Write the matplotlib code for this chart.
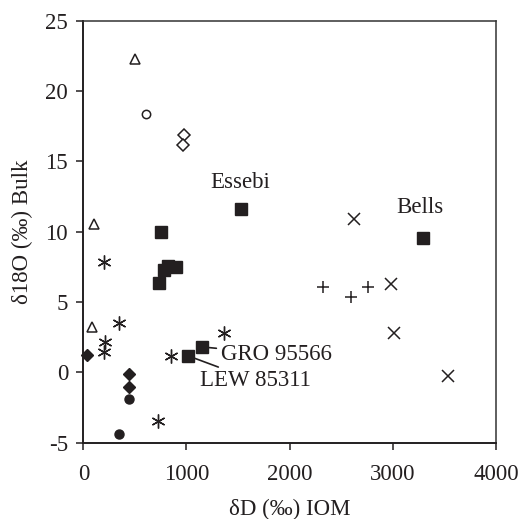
import matplotlib
matplotlib.use('Agg')
import matplotlib.pyplot as plt

plt.rcParams['font.family'] = ['Liberation Serif', 'DejaVu Serif']
plt.rcParams['axes.unicode_minus'] = False

INK = '#231f20'

# filled squares (named meteorites among them)
sq_x = [1528, 750, 818, 898, 785, 737, 1153, 1018, 3295]
sq_y = [11.6, 9.96, 7.56, 7.47, 7.28, 6.33, 1.81, 1.17, 9.53]

tri_x = [501, 104, 88]
tri_y = [22.25, 10.55, 3.2]

ocirc_x = [608]
ocirc_y = [18.4]

odia_x = [976, 969]
odia_y = [16.9, 16.2]

ast_x = [200, 349, 207, 201, 1365, 847, 721]
ast_y = [7.87, 3.53, 2.18, 1.47, 2.78, 1.17, -3.43]

fdia_x = [33, 446, 446]
fdia_y = [1.22, -0.11, -1.01]

fcirc_x = [446, 349]
fcirc_y = [-1.91, -4.4]

plus_x = [2326, 2591, 2756]
plus_y = [6.09, 5.38, 6.05]

cross_x = [2623, 2978, 3008, 3537]
cross_y = [10.9, 6.28, 2.78, -0.26]

fig = plt.figure(figsize=(5.23, 5.19), dpi=100)
ax = fig.add_axes([0.1593, 0.147, 0.7891, 0.813])

ax.plot(sq_x, sq_y, 's', ms=8, color=INK, ls='none')
ax.plot(tri_x, tri_y, '^', ms=7.5, mfc='white', mec=INK, mew=1.1, ls='none')
ax.plot(ocirc_x, ocirc_y, 'o', ms=6, mfc='white', mec=INK, mew=1.1, ls='none')
ax.plot(odia_x, odia_y, 'D', ms=6, mfc='white', mec=INK, mew=1.1, ls='none')
ax.plot(ast_x, ast_y, marker=(6, 2, 0), ms=10, color=INK, mew=1.0, ls='none')
ax.plot(fdia_x, fdia_y, 'D', ms=6, color=INK, ls='none', clip_on=False)
ax.plot(fcirc_x, fcirc_y, 'o', ms=6.5, color=INK, ls='none')
ax.plot(plus_x, plus_y, '+', ms=9, color=INK, mew=1.1, ls='none')
ax.plot(cross_x, cross_y, 'x', ms=8, color=INK, mew=1.1, ls='none')

fs = 16.5
ax.text(1525, 13.5, 'Essebi', ha='center', va='center', fontsize=fs, color=INK)
ax.text(3262, 11.7, 'Bells', ha='center', va='center', fontsize=fs, color=INK)
ax.annotate('GRO 95566', xy=(sq_x[6], sq_y[6]), xytext=(1330, 1.3),
            ha='left', va='center', fontsize=fs, color=INK,
            arrowprops=dict(arrowstyle='-', color=INK, lw=1.2,
                            shrinkA=1, shrinkB=5))
ax.annotate('LEW 85311', xy=(sq_x[7], sq_y[7]), xytext=(1130, -0.6),
            ha='left', va='center', fontsize=fs, color=INK,
            arrowprops=dict(arrowstyle='-', color=INK, lw=1.2,
                            shrinkA=1, shrinkB=5))

ax.set_xlim(0, 4000)
ax.set_ylim(-5, 25)
ax.set_xticks([0, 1000, 2000, 3000, 4000])
ax.set_yticks([-5, 0, 5, 10, 15, 20, 25])
ax.tick_params(direction='out', length=5, width=1.1, colors=INK, labelsize=fs,
               top=False, right=False)
ax.tick_params(axis='x', pad=10)
ax.tick_params(axis='y', pad=6)
for side in ['left', 'bottom']:
    ax.spines[side].set_linewidth(1.4)
    ax.spines[side].set_color(INK)
for side in ['top', 'right']:
    ax.spines[side].set_linewidth(1.1)
    ax.spines[side].set_color('#333333')

ax.set_xlabel('δD (‰) IOM', fontsize=fs, color=INK, labelpad=10)
ax.set_ylabel('δ18O (‰) Bulk', fontsize=fs, color=INK, labelpad=9)

fig.savefig('out.png', dpi=100)
